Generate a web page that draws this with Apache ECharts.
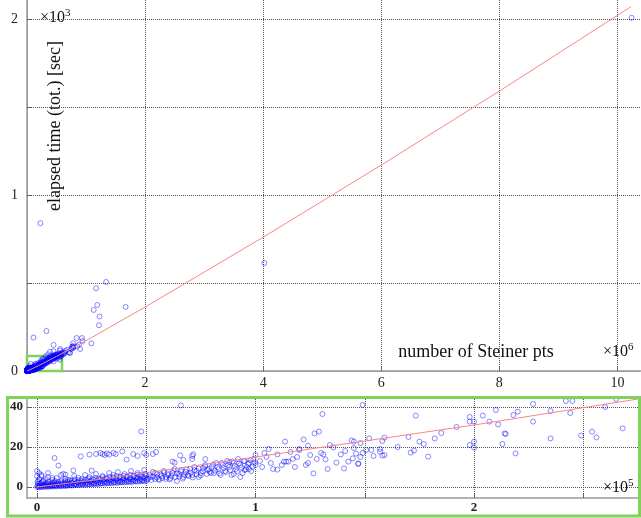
<!DOCTYPE html>
<html>
<head>
<meta charset="utf-8">
<script src="https://cdn.jsdelivr.net/npm/echarts@6/dist/echarts.min.js"></script>
<style>
html,body{margin:0;padding:0;background:#fff;}
#chart{width:641px;height:518px;}
</style>
</head>
<body>
<div id="chart"></div>
<script>
// x: number of Steiner points (thousands), y: elapsed time (sec)
const denseBand = [
[0,0],[1,-0.2],[2,0.1],[3,0],[4,0.2],[5,0.1],[6,0.3],[7,0.2],[8,0.4],[9,0.3],[10,0.5],[11,0.4],[12,0.6],[13,0.5],[14,0.7],[15,0.8],[16,0.7],[17,0.9],[18,1.0],[19,0.9],[20,1.1],[21,1.2],[22,1.1],[23,1.3],[24,1.4],[25,1.3],[26,1.5],[27,1.6],[28,1.5],[29,1.7],[30,1.8],[31,1.7],[32,1.9],[33,2.0],[34,1.9],[35,2.1],[36,2.2],[37,2.1],[38,2.3],[39,2.4],[40,2.3],[41,2.5],[42,2.6],[43,2.5],[44,2.7],[45,2.8],[46,2.7],[47,2.9],[48,3.0],[49,2.9],[50,3.1],
[0.5,1.5],[2,2],[3.5,1.2],[5,1.8],[6.5,1.4],[8,2.1],[9.5,1.7],[11,2.4],[12.5,1.9],[14,2.6],[15.5,2.2],[17,2.9],[18.5,2.5],[20,3.2],[21.5,2.8],[23,3.4],[24.5,3.0],[26,3.7],[27.5,3.3],[29,4.0],[30.5,3.6],[32,4.2],[33.5,3.8],[35,4.5],[36.5,4.1],[38,4.8],[39.5,4.4],[41,5.0],[42.5,4.6],[44,5.3],[45.5,4.9],[47,5.6],[48.5,5.1],[50,5.8],
[1,4],[2,6],[0,8],[3,3],[5,5],[7,3.5],[9,4.5],[11,6],[13,4],[15,3.5],[17,5.5],[19,4.5],[22,6],[24,5],[27,6.5],[30,5.5],[33,7],[35,6],[37,7.5],[40,6.5],[43,8],[46,7],[49,8.5],[0,5.5],[1,7],[0.5,3],[4,4],[7,4.5],[2,5.5],[5,7],[12,6.5],[13,6.2],[16.6,8.3],[25,8.2],[9.8,10.7],[8,14.5]
];
const denseBandFill = [
[0.3,0.6],[0.8,0.3],[1.3,0.9],[1.7,0.2],[2.4,0.7],[2.8,1.1],[3.2,0.5],[3.7,0.8],[4.3,1.0],[4.7,0.4],[5.2,1.3],[5.8,0.7],[6.3,1.0],[6.8,0.6],[7.3,1.5],[7.8,0.9],[8.4,1.2],[8.9,0.7],[9.3,1.6],[9.8,1.0],[10.4,1.3],[10.9,0.8],[11.5,1.7],[12.1,1.1],[12.7,1.4],[13.3,0.9],[13.8,1.8],[14.4,1.3],[15.1,1.6],[15.7,1.1],[16.2,2.0],[16.9,1.4],[17.5,1.7],[18.1,1.3],[18.8,2.2],[19.4,1.6],[20.2,1.9],[20.8,1.5],[21.3,2.4],[22.1,1.8],[22.7,2.1],[23.4,1.6],[24.1,2.6],[24.8,2.0],[25.5,2.3],[26.3,1.8],[26.9,2.8],[27.7,2.2],[28.4,2.5],[29.2,2.0],[29.8,3.0],[30.7,2.4],[31.4,2.8],[32.2,2.2],[32.9,3.2],[33.8,2.6],[34.6,3.0],[35.4,2.5],[36.1,3.5],[37.0,2.8],[37.8,3.2],[38.6,2.7],[39.3,3.7],[40.2,3.1],[41.1,3.5],[41.8,2.9],[42.6,3.9],[43.5,3.3],[44.3,3.7],[45.1,3.1],[45.9,4.2],[46.8,3.5],[47.6,4.0],[48.4,3.4],[49.3,4.4],[50.2,3.8],
[0.2,2.5],[1.5,1.8],[2.7,2.8],[4.1,2.0],[5.4,2.6],[6.9,2.3],[8.2,3.0],[9.7,2.6],[11.2,3.2],[12.8,2.9],[14.2,3.5],[15.8,3.1],[17.3,3.8],[18.9,3.4],[20.5,4.0],[22.0,3.7],[23.6,4.3],[25.2,3.9],[26.7,4.6],[28.3,4.2],[29.9,4.9],[31.5,4.5],[33.1,5.1],[34.7,4.8],[36.3,5.4],[37.9,5.0],[39.6,5.7],[41.2,5.3],[42.8,6.0],[44.5,5.6],[46.1,6.2],[47.7,5.9],[49.4,6.5]
];
const midBand = [
[52,5],[54,4],[55,6.5],[57,5.5],[58,8],[60,6],[61,4.5],[62,7],[63,9],[65,6.5],[66,8.5],[67,5],[68,7.5],[70,9],[71,6],[72,10],[73,8],[75,7],[76,9.5],[77,11],[78,8.5],[80,10],[81,7],[82,12],[83,9],[85,11],[86,8],[87,13],[88,10],[89,6],[90,12],[91,9],[92,14],[93,11],[94,7],[95,13],[96,10],[97,12],[98,8],[99,14],[100,11],[56,3.5],[64,3],[74,5],[84,6],[93,5],[97,9],[90,6.5],
[53,7.5],[59,4],[69,6],[79,7.5],[88,12.5],[95,8.5],
[50.8,4.2],[51.5,6.0],[52.3,3.5],[53.1,5.2],[54.0,7.0],[54.8,4.8],[55.6,3.9],[56.5,6.3],[57.3,4.5],[58.1,7.2],[59.0,5.0],[59.8,6.8],[60.7,3.8],[61.5,5.5],[62.4,8.2],[63.3,4.9],[64.1,6.7],[65.0,5.3],[65.8,7.8],[66.7,4.2],[67.6,6.0],[68.5,8.8],[69.4,5.5],[70.3,7.2],[71.2,4.8],[72.1,8.5],[73.0,6.3],[74.0,9.2],[74.9,5.8],[75.8,7.8],[76.8,10.3],[77.7,6.5],[78.7,9.0],[79.6,7.0],[80.6,11.2],[81.5,8.2],[82.5,10.0],[83.5,6.8],[84.5,12.0],[85.4,9.5],[86.4,7.5],[87.4,11.0],[88.4,8.5],[89.4,12.8],[90.5,10.5],[91.5,7.8],[92.5,11.8],[93.5,9.8],[94.6,13.0],[95.6,8.8],[96.6,11.5],[97.7,13.5],[98.7,10.2],[99.7,12.2]
];
const upperRow = [
[20,15.3],[24,16.2],[27,16.5],[29,17],[30,16.5],[31,16],[32,16.8],[33,16.2],[35,17],[36,16.5],[39,17.8],[41,13.7],[44,16.5],[46,15.5],[49,17],[50,16],[53,16.5],[54.5,17.5],[62,12.7],[63,12.2],[65.5,15.8],[67,13.5],[71,14],[71,15.5],[71.5,16.3],[77,14],[47.7,27.8],[65.8,40.8]
];
const rightBand = [
[100,16],[102,13],[104,17],[105,15],[103,10],[108,9],[110,8.7],[110,16.3],[112,11],[113,12.7],[114,12.7],[115,12.7],[113.5,22.7],[117,14],[118,10],[119,15],[120,18.5],[120,19],[122,23.8],[123,11],[124,20.7],[124,12],[126.5,6.8],[127,26.8],[129,27.7],[125,16],[128,14],[130,17],[130.6,36.5],[131,16.3],[132,13.8],[133,9],[135.6,19.8],[137,12.2],[139,16.3],[140.5,9.3],[142.5,12.7],[144.5,14.3],[144,23.3],[145,22.7],[145,19.5],[146,16.7],[147,11.8],[147,11.5],[148,22],[148,15],[149,41],[149,17],[107,12],[106,19],[116,17.5],[134,21],[141,18],
[150.6,18.5],[152,24.3],[153,18.5],[154,15.5],[157,19],[157,17.7],[158,23],[158,15.7],[159,24.7],[159,16],[170,25],[171,17.2],[172.5,18.2],[173.3,35.7],[175,22.7],[177,21.5],[179,15.2],[182,24.3],[189,45],[198,35],[198,32.7],[200,32.7],[198,21],[200,22.7],[200,19.7],[165,20],[185,27],[192,30],
[204,35.7],[207,32.7],[210,38.5],[211,31.3],[213,21.5],[214,26.8],[214.5,26.5],[218,36],[219,16.8],[220,37.7],[227,41.5],[227,32.7],[235,24.3],[242,43],[245,43],[244,37],[249,25.7],[254,27.7],[256,24.8],[265,44],[268,29.3],[235,38],[260,40]
];
const largeRuns = [
[290,45],[300,38],[310,52],[320,44],[330,58],[340,48],[350,62],[360,52],[370,66],[380,55],[390,70],[400,60],[410,74],[420,64],[430,78],[440,68],[450,82],[460,72],[470,85],[480,76],[490,80],[500,88],[520,84],[540,90],[560,80],[580,86],[300,60],[350,75],[400,85],[450,55],[500,70],[550,65],[280,70],[320,85],
[285,50],[295,42],[305,47],[315,55],[325,50],[335,62],[345,55],[355,68],[365,60],[375,72],[385,63],[395,77],[405,68],[415,80],[425,70],[435,84],[445,76],[455,88],[465,78],[475,92],[485,84],[495,95],[505,80],[515,92],[525,75],[535,98],[545,86],[555,95],[565,90],[575,100],[585,92],[595,105],[610,98],[230,48],[250,52],[270,55],[240,60],[260,66],
[1340,506],[1170,470],[1190,375],[1130,347],[1230,310],[1220,260],[1670,364],[330,227],[110,190],[840,187],[930,187],[940,170],[1090,157],[780,157],[780,142],[780,130],[790,136],[900,125],[450,148],[560,117],[630,106],[720,104],[450,113],[390,110],[360,95],[500,88],
[650,115],[680,120],[700,108],[750,125],[760,135],[850,140],[880,150],[620,95],[590,100],[560,125],[640,102],[730,102],[770,138],
[226,840],[4020,614],[10240,2007]
];
const fitK = [0, 30, 100, 200, 500, 1000, 2000, 4000, 6000, 8000, 10230];
const fitSec = [0, 4, 15, 31, 83, 172, 363, 760, 1170, 1590, 2070];
const greenBox = [[-17, -6], [593, 85]];
const mainXTicks = [0, 2000, 4000, 6000, 8000, 10000];
const mainXLabels = [2000, 4000, 6000, 8000, 10000];
const mainYTicks = [0, 500, 1000, 1500, 2000];
const mainYLabels = [0, 1000, 2000];
const insetXTicks = [0, 50, 100, 150, 200, 250];
const insetXLabels = [0, 100, 200];
const insetYTicks = [0, 20, 40];

const allPoints = denseBand.concat(denseBandFill, midBand, upperRow, rightBand, largeRuns);
const fitLine = fitK.map((k, i) => [k, fitSec[i]]);

const serif = 'Liberation Serif';
const GREEN = '#7fd35a';
const gridLine = {show: true, lineStyle: {color: '#555', type: 'dotted', width: 1}};
const axisLine = {show: true, onZero: false, lineStyle: {color: '#9a9a9a', width: 1.5}};
const markerStyle = {color: 'rgba(0,0,0,0)', borderColor: 'rgba(0,0,255,0.72)', borderWidth: 0.8};

const chart = echarts.init(document.getElementById('chart'), null, {renderer: 'canvas'});
chart.setOption({
  animation: false,
  backgroundColor: '#fff',
  grid: [
    {left: 27, right: 0, top: 0, bottom: 147},
    {left: 27, right: 0, top: 399, bottom: 20}
  ],
  xAxis: [
    {type: 'value', gridIndex: 0, min: 0, max: 10400,
     axisLine: axisLine, splitLine: gridLine,
     axisTick: {show: true, inside: true, length: 4, lineStyle: {color: '#666'}, customValues: mainXTicks},
     axisLabel: {customValues: mainXLabels, formatter: v => String(v / 1000), fontFamily: serif, fontSize: 14, color: '#222', margin: 5}},
    {type: 'value', gridIndex: 1, min: -4.6, max: 276.4,
     axisLine: axisLine, splitLine: gridLine,
     axisTick: {show: true, inside: true, length: 4, lineStyle: {color: '#666'}, customValues: insetXTicks},
     axisLabel: {customValues: insetXLabels, formatter: v => String(v / 100), fontFamily: serif, fontWeight: 'bold', fontSize: 13, color: '#222', margin: 3}}
  ],
  yAxis: [
    {type: 'value', gridIndex: 0, min: 0, max: 2108,
     axisLine: axisLine, splitLine: gridLine,
     axisTick: {show: true, inside: true, length: 4, lineStyle: {color: '#666'}, customValues: mainYTicks},
     axisLabel: {customValues: mainYLabels, formatter: v => String(v / 1000), fontFamily: serif, fontSize: 14, color: '#222', margin: 9}},
    {type: 'value', gridIndex: 1, min: -5.5, max: 44,
     axisLine: axisLine, splitLine: gridLine,
     axisTick: {show: true, inside: true, length: 4, lineStyle: {color: '#666'}, customValues: insetYTicks},
     axisLabel: {customValues: insetYTicks, fontFamily: serif, fontWeight: 'bold', fontSize: 13, color: '#222', margin: 4}}
  ],
  series: [
    {type: 'scatter', xAxisIndex: 0, yAxisIndex: 0, data: allPoints, symbol: 'circle', symbolSize: 5, clip: false,
     itemStyle: markerStyle,
     markArea: {silent: true, itemStyle: {color: 'rgba(0,0,0,0)', borderColor: GREEN, borderWidth: 2.5},
       data: [[{coord: greenBox[0]}, {coord: greenBox[1]}]]}},
    {type: 'line', xAxisIndex: 0, yAxisIndex: 0, data: fitLine, symbol: 'none', z: 3,
     lineStyle: {color: '#ff8484', width: 1}},
    {type: 'scatter', xAxisIndex: 1, yAxisIndex: 1, data: allPoints, symbol: 'circle', symbolSize: 5, clip: true,
     itemStyle: markerStyle},
    {type: 'line', xAxisIndex: 1, yAxisIndex: 1, data: fitLine, symbol: 'none', z: 3, clip: true,
     lineStyle: {color: '#ff8484', width: 1}}
  ],
  graphic: [
    {type: 'text', x: 40, y: 18, style: {text: '×10{s|3}', fontFamily: serif, fontSize: 16, fill: '#111', verticalAlign: 'middle',
      rich: {s: {fontFamily: serif, fontSize: 11, verticalAlign: 'top', padding: [0, 0, 9, 0]}}}},
    {type: 'text', x: 55, y: 126, rotation: Math.PI / 2,
     style: {text: 'elapsed time (tot.) [sec]', fontFamily: serif, fontSize: 18, fill: '#111', align: 'center', verticalAlign: 'middle'}},
    {type: 'text', x: 476, y: 352,
     style: {text: 'number of Steiner pts', fontFamily: serif, fontSize: 18, fill: '#111', align: 'center', verticalAlign: 'middle'}},
    {type: 'text', x: 603, y: 352, style: {text: '×10{s|6}', fontFamily: serif, fontSize: 16, fill: '#111', verticalAlign: 'middle',
      rich: {s: {fontFamily: serif, fontSize: 11, verticalAlign: 'top', padding: [0, 0, 9, 0]}}}},
    {type: 'text', x: 603, y: 488, z: 10, style: {text: '×10{s|5}', fontFamily: serif, fontSize: 16, fill: '#111', verticalAlign: 'middle',
      rich: {s: {fontFamily: serif, fontSize: 11, verticalAlign: 'top', padding: [0, 0, 9, 0]}}}},
    {type: 'rect', z: 100, shape: {x: 7.5, y: 397.5, width: 632, height: 118.5},
     style: {fill: 'none', stroke: GREEN, lineWidth: 3}}
  ]
});
</script>
</body>
</html>
